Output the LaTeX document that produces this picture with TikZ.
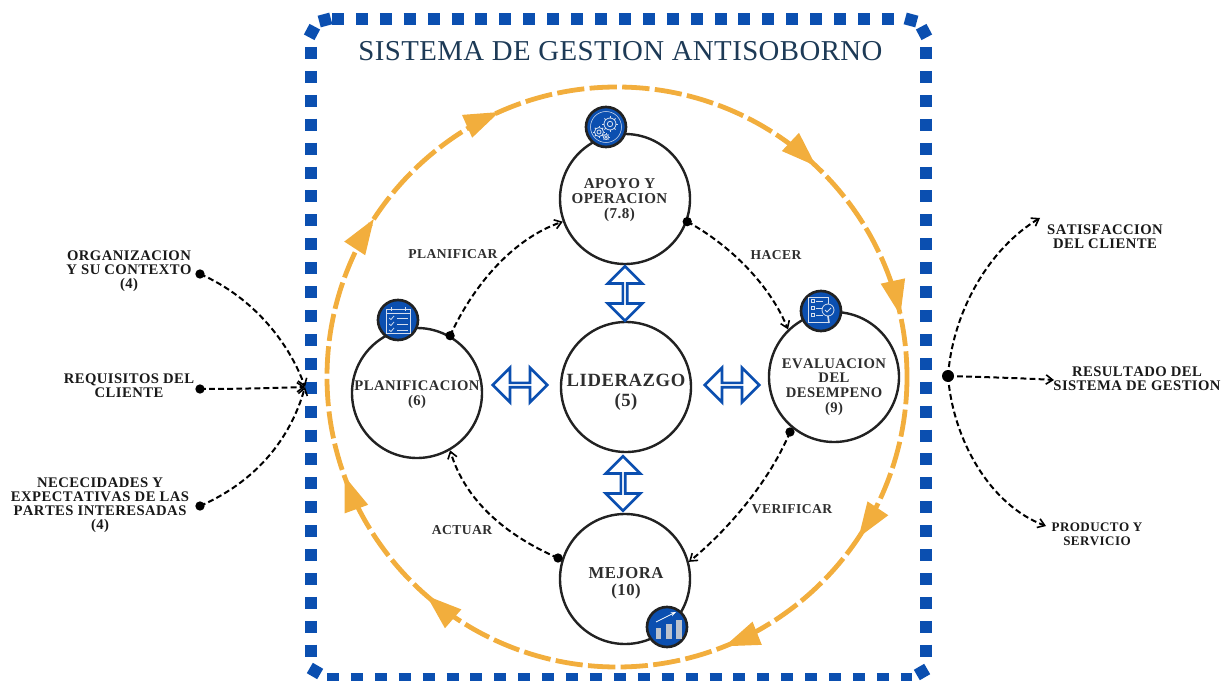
\documentclass[tikz,border=0pt]{standalone}
\usepackage{fontspec}
\usetikzlibrary{arrows.meta,shapes.arrows,calc}
\setmainfont{Liberation Serif}
\newfontfamily\lblfont[LetterSpace=3,Kerning=Off]{Liberation Serif}
\newfontfamily\titlefont[LetterSpace=1.5]{Liberation Serif}
\definecolor{sgblue}{HTML}{0B4FB0}
\definecolor{sgorange}{HTML}{F2AE3D}
\definecolor{sgnavy}{HTML}{1D3A56}
\definecolor{sgtext}{HTML}{2E2E2E}
\definecolor{sgring}{HTML}{222222}
\definecolor{sgicon}{HTML}{D5DEEE}
\tikzset{
  frameside/.style={sgblue,line width=9pt,dash pattern=on 9pt off 8.93pt},
  ring/.style={circle,draw=sgring,line width=1.8pt,fill=white,minimum size=97.5pt,inner sep=0pt},
  iconbg/.style={circle,draw=sgring,fill=sgblue,line width=2pt,minimum size=30pt,inner sep=0pt},
  txt/.style={font=\lblfont\bfseries\fontsize{11}{11}\selectfont,align=center,text=sgtext,inner sep=0pt},
  bigtxt/.style={font=\lblfont\bfseries\fontsize{14}{15}\selectfont,align=center,text=sgtext,inner sep=0pt},
  midtxt/.style={font=\lblfont\bfseries\fontsize{12.5}{12.5}\selectfont,align=center,text=sgtext,inner sep=0pt},
  smalltxt/.style={font=\lblfont\bfseries\fontsize{10.2}{10}\selectfont,align=center,text=sgtext,inner sep=0pt},
  outtxt/.style={font=\lblfont\bfseries\fontsize{11}{10.6}\selectfont,align=center,text=black!90,inner sep=0pt},
  prodtxt/.style={font=\lblfont\bfseries\fontsize{9.8}{10.6}\selectfont,align=center,text=black!90,inner sep=0pt},
  conn/.style={line width=1.5pt,dash pattern=on 4.4pt off 2.4pt,-{Straight Barb[length=5pt,width=7pt,line width=1.2pt]}},
  dotn/.style={circle,fill=black,minimum size=7pt,inner sep=0pt},
  dbl/.style={double arrow,draw=sgblue,fill=white,line width=2pt,minimum width=26pt,minimum height=41pt,double arrow head extend=7pt,inner sep=0pt},
  ic/.style={draw=sgicon,line width=.6pt},
}
\newcommand{\otri}[1]{%
  \fill[sgorange,shift={({617+290*cos(#1)},{377+290*sin(#1)})},rotate={-90-(#1)}]
    (0,0) -- (-35,12.5) -- (-35,-12.5) -- cycle;}
\newcommand{\tiltsq}[3]{\fill[sgblue,shift={(#1,#2)},rotate=#3] (-6,-6) rectangle (6,6);}
\newcommand{\gearicon}[4]{% x y r teeth
  \draw[ic] (#1,#2) circle (#3);
  \draw[ic] (#1,#2) circle ({#3*.45});
  \foreach \a in {0,45,...,315}
    \draw[ic] ($(#1,#2)+(\a:#3*0.75pt)$) -- ($(#1,#2)+(\a:#3*0.75pt+#4*0.75pt)$);
}
\begin{document}
\begin{tikzpicture}[x=.75pt,y=-.75pt]
\useasboundingbox (0,0) rectangle (1229,681);
% outer frame
\draw[frameside] (332,19.5) -- (895,19.5);
\draw[frameside] (926,47) -- (926,659);
\draw[frameside] (327,679) -- (912,679);
\draw[frameside] (311,47) -- (311,659);
\tiltsq{325}{20}{15}
\tiltsq{312}{32}{-28}
\tiltsq{911}{20}{-15}
\tiltsq{924}{32}{28}
\tiltsq{922}{672}{30}
\tiltsq{315}{671}{-30}
\node[font=\titlefont\fontsize{21.6}{24}\selectfont,text=sgnavy,inner sep=0pt] (title) at (620.5,51) {SISTEMA DE GESTION ANTISOBORNO};
% orange cycle
\draw[sgorange,line width=3.6pt,dash pattern=on 20.5pt off 4pt] (907,377) arc[start angle=0,end angle=360,radius=290];
\foreach \t in {-12.3,33.6,68.2,131,160,213,246,-46.7}{\otri{\t}}
% main circles
\node[ring] (apoyo) at (625,199) {};
\node[ring] (lider) at (626,387) {};
\node[ring] (mejora) at (625,579) {};
\node[ring] (plan) at (417,393) {};
\node[ring] (eval) at (834,377) {};
\node[txt,font=\lblfont\bfseries\fontsize{11.3}{11}\selectfont] (tapoyo) at (619.5,200) {APOYO Y\\OPERACION\\(7.8)};
\node[bigtxt] (tlider) at (626,392) {LIDERAZGO\\(5)};
\node[midtxt] (tmejora) at (626,583) {MEJORA\\(10)};
\node[txt] (tplan) at (417,395) {PLANIFICACION\\(6)};
\node[txt] (teval) at (834,387) {EVALUACION\\DEL\\DESEMPENO\\(9)};
% double arrows
\node[dbl,rotate=90] (a1) at (625,293.5) {};
\node[dbl,rotate=90] (a2) at (623,483.5) {};
\node[dbl] (a3) at (520,385) {};
\node[dbl] (a4) at (732,385) {};
% connectors
\node[dotn] (d1) at (plan.60) {};
\coordinate (e1) at (apoyo.200);
\draw[conn] (d1.center) .. controls (475,282) and (515,238) .. (e1);
\node[dotn] (d2) at (apoyo.-20) {};
\coordinate (e2) at (eval.134);
\draw[conn] (d2.center) .. controls (730,245) and (770,285) .. (e2);
\node[dotn] (d3) at (790,432) {};
\coordinate (e3) at (mejora.15);
\draw[conn] (d3.center) .. controls (770,480) and (730,528) .. (e3);
\node[dotn] (d4) at (558,558) {};
\coordinate (e4) at (plan.-60);
\draw[conn] (d4.center) .. controls (505,535) and (465,500) .. (e4);
\node[smalltxt] (l1) at (453,254) {PLANIFICAR};
\node[smalltxt] (l2) at (776,255) {HACER};
\node[smalltxt] (l3) at (792,509) {VERIFICAR};
\node[smalltxt] (l4) at (462,530) {ACTUAR};
% left inputs
\coordinate (inp) at (305,387);
\node[dotn] (i1) at (200,274) {};
\node[dotn] (i2) at (200,389) {};
\node[dotn] (i3) at (200,506) {};
\draw[conn] (i1.center) .. controls (255,298) and (290,345) .. (inp);
\draw[conn] (i2.center) .. controls (240,389) and (270,388) .. (inp);
\draw[conn] (i3.center) .. controls (255,482) and (290,440) .. (inp);
\node[outtxt] (ti1) at (129,271) {ORGANIZACION\\Y SU CONTEXTO\\(4)};
\node[outtxt] (ti2) at (129,386) {REQUISITOS DEL\\CLIENTE};
\node[outtxt] (ti3) at (100,505) {NECECIDADES Y\\EXPECTATIVAS DE LAS\\PARTES INTERESADAS\\(4)};
% right outputs
\node[dotn,minimum size=9pt] (o0) at (948,376) {};
\coordinate (o1) at (1040,218);
\coordinate (o2) at (1054,380);
\coordinate (o3) at (1046,526);
\draw[conn] (o0.center) .. controls (953,310) and (990,248) .. (o1);
\draw[conn] (o0.center) .. controls (980,377) and (1020,378) .. (o2);
\draw[conn] (o0.center) .. controls (953,440) and (990,505) .. (o3);
\node[outtxt] (to1) at (1105,237) {SATISFACCION\\DEL CLIENTE};
\node[outtxt] (to2) at (1137,379) {RESULTADO DEL\\SISTEMA DE GESTION};
\node[prodtxt] (to3) at (1097,534) {PRODUCTO Y\\SERVICIO};
% icons
\node[iconbg] (ic1) at (606,127) {};
\node[iconbg] (ic2) at (398,320) {};
\node[iconbg] (ic3) at (821,311) {};
\node[iconbg] (ic4) at (667,627) {};
% gears
\gearicon{610}{124}{6}{1.8}
\gearicon{599}{132}{4.5}{1.5}
\gearicon{606}{137}{2.5}{1}
\draw[ic,line width=.4pt] (606,127) circle (15.5);
% checklist
\draw[ic] (386,309) rectangle (410,333);
\draw[ic] (386,313) -- (410,313) (391,307) -- (391,311) (405,307) -- (405,311);
\foreach \yy in {318,324,330}{
  \draw[ic] (389,\yy) -- (391,{\yy+1.5}) -- (394,{\yy-2});
  \draw[ic] (397,{\yy}) -- (408,{\yy});
}
% evaluation
\draw[ic] (808,297) rectangle (828,322);
\foreach \yy in {301,308,315}{
  \draw[ic] (811,{\yy-1.5}) rectangle (814,{\yy+1.5});
  \draw[ic] (816,\yy) -- (823,\yy);
}
\draw[ic,fill=sgblue] (828,310) circle (6);
\draw[ic] (825,310) -- (827,312) -- (831,308);
\draw[sgicon,line width=1.2pt] (828,316) -- (829,323);
% bars
\fill[sgicon!70!gray] (656,628) rectangle (661,639);
\fill[sgicon!70!gray] (666,624) rectangle (672,639);
\fill[sgicon!70!gray] (676,620) rectangle (682,639);
\draw[white,line width=.6pt,-{Stealth[length=4pt,width=3pt]}] (656,622) -- (676,612);
\end{tikzpicture}
\end{document}
